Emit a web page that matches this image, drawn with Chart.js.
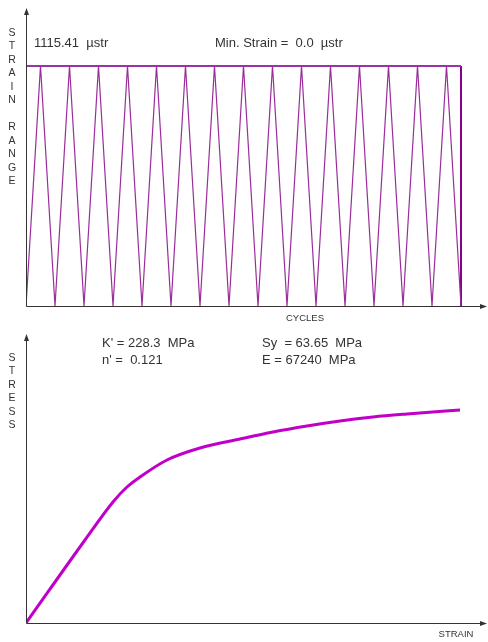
<!DOCTYPE html>
<html>
<head>
<meta charset="utf-8">
<script src="https://cdn.jsdelivr.net/npm/chart.js@4/dist/chart.umd.min.js"></script>
<style>
  body { margin: 0; background: #fff; }
  canvas { position: absolute; left: 0; }
  #top { top: 0; }
  #bottom { top: 328px; }
</style>
</head>
<body>
<canvas id="top" width="488" height="328"></canvas>
<canvas id="bottom" width="488" height="314"></canvas>
<script>
// cycle history (half cycles) and strain, µstr
var cycles = [0, 0.5, 1, 1.5, 2, 2.5, 3, 3.5, 4, 4.5, 5, 5.5, 6, 6.5, 7, 7.5,
              8, 8.5, 9, 9.5, 10, 10.5, 11, 11.5, 12, 12.5, 13, 13.5, 14, 14.5, 15];
var strain = [0, 1115.41, 0, 1115.41, 0, 1115.41, 0, 1115.41, 0, 1115.41, 0, 1115.41,
              0, 1115.41, 0, 1115.41, 0, 1115.41, 0, 1115.41, 0, 1115.41, 0, 1115.41,
              0, 1115.41, 0, 1115.41, 0, 1115.41, 0];
var maxStrain = 1115.41;
var minStrain = 0.0;
var lastCycle = 15;

// cyclic stress-strain curve (relative units)
var ssStrain = [0, 59, 87, 101, 114, 141, 174, 214, 247, 281, 314, 347, 381, 434];
var ssStress = [0, 83, 121, 136, 146, 163, 175, 184, 191, 197, 202, 206, 209, 213];

var axisColor = "#333";
var textColor = "#333";
var font = "Liberation Sans, Arial, sans-serif";

function pts(xs, ys) {
  return xs.map(function (x, i) { return { x: x, y: ys[i] }; });
}

// draws axes with arrows and the labels
function axesPlugin(opts) {
  return {
    id: "axes",
    afterDraw: function (chart) {
      var c = chart.ctx, a = chart.chartArea;
      var x0 = Math.round(a.left) + 0.5, y0 = Math.round(a.bottom) + 0.5;
      c.save();
      c.strokeStyle = axisColor;
      c.fillStyle = axisColor;
      c.lineWidth = 1;
      c.beginPath();
      c.moveTo(x0, a.top + 2);
      c.lineTo(x0, y0);
      c.lineTo(a.right - 2, y0);
      c.stroke();
      // arrow heads
      c.beginPath();
      c.moveTo(x0, a.top - 2);
      c.lineTo(x0 - 2.5, a.top + 5);
      c.lineTo(x0 + 2.5, a.top + 5);
      c.closePath();
      c.fill();
      c.beginPath();
      c.moveTo(a.right + 1, y0);
      c.lineTo(a.right - 6, y0 - 2.5);
      c.lineTo(a.right - 6, y0 + 2.5);
      c.closePath();
      c.fill();

      c.fillStyle = textColor;
      c.textBaseline = "middle";
      c.font = "10.5px " + font;
      c.textAlign = "center";
      opts.vertical.split("").forEach(function (ch, i) {
        if (ch !== " ") c.fillText(ch, 12, opts.vTop + i * 13.5);
      });
      c.font = "9.5px " + font;
      c.fillText(opts.xTitle, opts.xTitleX, opts.xTitleY);
      c.textAlign = "left";
      c.font = "13px " + font;
      opts.notes.forEach(function (n) { c.fillText(n[0], n[1], n[2]); });
      c.restore();
    }
  };
}

var common = {
  responsive: false,
  animation: false,
  plugins: { legend: { display: false }, tooltip: { enabled: false } },
  elements: { point: { radius: 0 } }
};

new Chart(document.getElementById("top"), {
  type: "line",
  data: {
    datasets: [
      { data: pts(cycles, strain), borderColor: "#9b2d9b", borderWidth: 1.2, tension: 0 },
      { data: pts([0, lastCycle], [maxStrain, maxStrain]), borderColor: "#9933a6", borderWidth: 2 },
      { data: pts([lastCycle, lastCycle], [minStrain, maxStrain]), borderColor: "#880088", borderWidth: 2 }
    ]
  },
  options: Object.assign({}, common, {
    layout: { padding: { left: 26, right: 2, top: 10, bottom: 22 } },
    scales: {
      x: { type: "linear", display: false, min: 0, max: 460 / 29 },
      y: { display: false, min: 0, max: maxStrain * 296 / 240 }
    }
  }),
  plugins: [axesPlugin({
    vertical: "STRAIN RANGE",
    vTop: 33,
    xTitle: "CYCLES",
    xTitleX: 305,
    xTitleY: 318,
    notes: [
      ["1115.41  \u00b5str", 34, 43],
      ["Min. Strain =  0.0  \u00b5str", 215, 43]
    ]
  })]
});

new Chart(document.getElementById("bottom"), {
  type: "line",
  data: {
    datasets: [
      { data: pts(ssStrain, ssStress), borderColor: "#c000c8", borderWidth: 3,
        cubicInterpolationMode: "monotone" }
    ]
  },
  options: Object.assign({}, common, {
    layout: { padding: { left: 26, right: 2, top: 8, bottom: 19 } },
    scales: {
      x: { type: "linear", display: false, min: 0, max: 460 },
      y: { display: false, min: 0, max: 287 }
    }
  }),
  plugins: [axesPlugin({
    vertical: "STRESS",
    vTop: 30,
    xTitle: "STRAIN",
    xTitleX: 456,
    xTitleY: 306,
    notes: [
      ["K' = 228.3  MPa", 102, 15],
      ["n' =  0.121", 102, 32],
      ["Sy  = 63.65  MPa", 262, 15],
      ["E = 67240  MPa", 262, 32]
    ]
  })]
});
</script>
</body>
</html>
